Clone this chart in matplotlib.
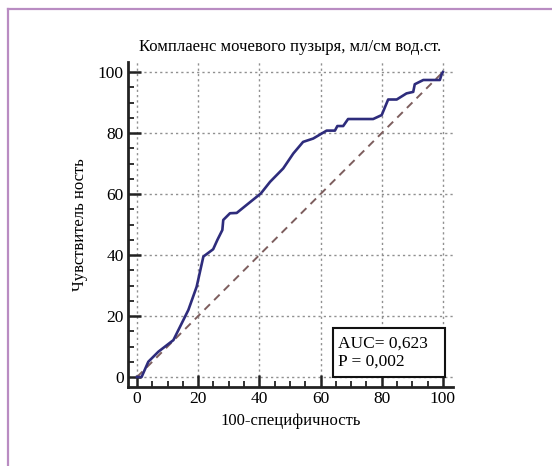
import matplotlib.pyplot as plt
from matplotlib.patches import Rectangle
from matplotlib.ticker import MultipleLocator

# ROC curve points (100-specificity, sensitivity), in percent
fpr = [0, 1.5, 3.7, 7.0, 11.9, 16.8, 19.5, 21.7, 24.9, 26.3, 27.9, 28.2, 30.4,
       32.6, 35.8, 40.5, 43.5, 47.8, 51.1, 54.3, 57.6, 62.0, 64.7, 65.5, 67.4,
       69.0, 77.2, 80.0, 82.1, 84.9, 88.1, 90.3, 90.8, 93.6, 99.0, 99.6, 100]
tpr = [0, 0, 5.0, 8.3, 12.1, 22.0, 29.6, 39.5, 41.9, 45.0, 48.2, 51.5, 53.7,
       53.8, 56.4, 60.2, 64.0, 68.4, 73.3, 77.1, 78.2, 80.8, 80.8, 82.3, 82.3,
       84.6, 84.6, 85.9, 91.0, 91.0, 93.0, 93.5, 96.0, 97.4, 97.4, 99.3, 100]
ticks = [0, 20, 40, 60, 80, 100]
auc_text = "AUC= 0,623\nP = 0,002"

plt.rcParams['font.family'] = ['Liberation Serif', 'DejaVu Serif']

fig = plt.figure(figsize=(5.52, 4.66), dpi=100)

# purple frame around the figure (left and top edges visible)
fig.add_artist(plt.Line2D([8 / 552, 8 / 552], [0, 1 - 8.5 / 466],
                          color='#b98cc2', lw=1.6, transform=fig.transFigure))
fig.add_artist(plt.Line2D([8 / 552, 1], [1 - 8.5 / 466, 1 - 8.5 / 466],
                          color='#b98cc2', lw=1.6, transform=fig.transFigure))

ax = fig.add_axes([128 / 552, (466 - 387) / 466, (453 - 128) / 552, (387 - 62) / 466])
ax.set_xlim(-2.94, 103.3)
ax.set_ylim(-3.28, 103.3)

for v in ticks:
    ax.axhline(v, color='#909090', lw=1.0, ls=(0, (1.6, 2.2)), zorder=1)
    ax.axvline(v, color='#909090', lw=1.0, ls=(0, (1.6, 2.2)), zorder=1)

ax.plot([0, 100], [0, 100], color='#7d5e5e', lw=1.4, ls=(0, (4, 3)), zorder=2)
ax.plot(fpr, tpr, color='#2e2c7c', lw=1.9, zorder=3)

ax.spines['top'].set_visible(False)
ax.spines['right'].set_visible(False)
for s in ('left', 'bottom'):
    ax.spines[s].set_linewidth(2.0)
    ax.spines[s].set_color('#222222')

ax.set_xticks(ticks)
ax.set_yticks(ticks)
ax.xaxis.set_minor_locator(MultipleLocator(5))
ax.yaxis.set_minor_locator(MultipleLocator(5))
ax.tick_params(which='major', direction='in', length=9, width=1.8,
               labelsize=12.5, color='#222222', pad=3)
ax.tick_params(which='minor', direction='in', length=4.5, width=1.3,
               color='#222222')

ax.set_title("Комплаенс мочевого пузыря, мл/см вод.ст.", fontsize=12, pad=8)
ax.set_xlabel("100-специфичность", fontsize=12, labelpad=4)
ax.set_ylabel("Чувствитель ность", fontsize=12, labelpad=7)

# AUC annotation box
ax.add_patch(Rectangle((64, 0), 36.7, 16, fc='white', ec='#111111', lw=1.5,
                       zorder=5))
ax.text(65.6, 8, auc_text, fontsize=12.5, linespacing=1.15, va='center',
        ha='left', zorder=6)

fig.savefig('out.png', dpi=100)
